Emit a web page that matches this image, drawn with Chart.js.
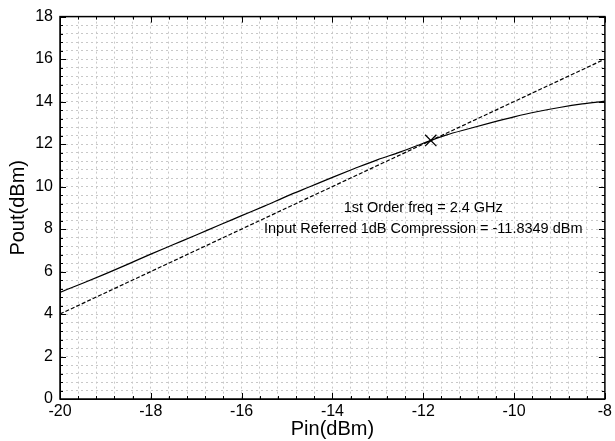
<!DOCTYPE html>
<html>
<head>
<meta charset="utf-8">
<script src="https://cdn.jsdelivr.net/npm/chart.js@4/dist/chart.umd.min.js"></script>
<style>
    body { margin: 0; background: #fff; overflow: hidden; }
    #contenedor { width: 615px; height: 441px; position: relative; }
</style>
</head>
<body>
<div id="contenedor"><canvas id="grafico"></canvas></div>
<script>
// Pout medido vs Pin
const pin = [-20, -19.5, -19, -18.5, -18, -17.5, -17, -16.5, -16, -15.5, -15, -14.5, -14,
             -13.5, -13, -12.5, -12, -11.5, -11, -10.5, -10, -9.5, -9, -8.5, -8];
const pout = [5.02, 5.45, 5.89, 6.35, 6.82, 7.27, 7.72, 8.18, 8.63, 9.08, 9.55, 9.99, 10.43,
              10.86, 11.27, 11.63, 12.04, 12.42, 12.72, 13.01, 13.28, 13.52, 13.72, 13.89, 14.02];

// recta de primer orden (extrapolada)
const pinLineal = [-20, -8];
const poutLineal = [4, 16];

// punto de compresion 1dB
const pinComp = [-11.8349];
const poutComp = [12.17];

const ticksX = [-20, -18, -16, -14, -12, -10, -8];
const ticksY = [0, 2, 4, 6, 8, 10, 12, 14, 16, 18];

const notas = ['1st Order freq = 2.4 GHz', 'Input Referred 1dB Compression = -11.8349 dBm'];
const notaPin = -12;
const notaPout = [9, 8];

const fuente = '"Liberation Sans", Arial, Helvetica, sans-serif';

function esMayor(v, lista) {
    return lista.some(t => Math.abs(t - v) < 1e-6);
}

// marcas de tick hacia dentro en los cuatro lados + marco
const marcas = {
    id: 'marcas',
    afterDraw(chart) {
        const c = chart.ctx;
        const a = chart.chartArea;
        const sx = chart.scales.x;
        const sy = chart.scales.y;
        c.save();
        c.strokeStyle = '#000';
        c.lineWidth = 1;
        sx.ticks.forEach(t => {
            const px = Math.round(sx.getPixelForValue(t.value)) + 0.5;
            const l = esMayor(t.value, ticksX) ? 6 : 3;
            c.beginPath();
            c.moveTo(px, a.bottom); c.lineTo(px, a.bottom - l);
            c.moveTo(px, a.top); c.lineTo(px, a.top + l);
            c.stroke();
        });
        sy.ticks.forEach(t => {
            const py = Math.round(sy.getPixelForValue(t.value)) + 0.5;
            const l = esMayor(t.value, ticksY) ? 6 : 3;
            c.beginPath();
            c.moveTo(a.left, py); c.lineTo(a.left + l, py);
            c.moveTo(a.right, py); c.lineTo(a.right - l, py);
            c.stroke();
        });
        c.lineWidth = 1.5;
        c.strokeRect(a.left, a.top, a.right - a.left, a.bottom - a.top);
        c.restore();
    },
    afterDatasetsDraw(chart) {
        const c = chart.ctx;
        const sx = chart.scales.x;
        const sy = chart.scales.y;
        c.save();
        c.fillStyle = '#000';
        c.font = '14.5px ' + fuente;
        c.textAlign = 'center';
        c.textBaseline = 'middle';
        notas.forEach((txt, i) => {
            c.fillText(txt, sx.getPixelForValue(notaPin), sy.getPixelForValue(notaPout[i]));
        });
        c.restore();
    }
};

let ctx = document.getElementById('grafico').getContext('2d');
let grafico = new Chart(ctx, {
    type: 'line',
    data: {
        datasets: [
            {
                label: 'Pout',
                data: pin.map((x, i) => ({ x: x, y: pout[i] })),
                borderColor: '#000',
                borderWidth: 1.2,
                pointRadius: 0,
                cubicInterpolationMode: 'monotone',
                fill: false
            },
            {
                label: 'Lineal',
                data: pinLineal.map((x, i) => ({ x: x, y: poutLineal[i] })),
                borderColor: '#000',
                borderWidth: 1.2,
                borderDash: [4, 2],
                pointRadius: 0,
                fill: false
            },
            {
                label: 'P1dB',
                data: pinComp.map((x, i) => ({ x: x, y: poutComp[i] })),
                showLine: false,
                pointStyle: 'crossRot',
                pointRadius: 8,
                borderColor: '#000',
                borderWidth: 1.3
            }
        ]
    },
    options: {
        responsive: true,
        maintainAspectRatio: false,
        animation: false,
        events: [],
        layout: { padding: { top: 15, right: 9, left: 0, bottom: 0 } },
        plugins: {
            legend: { display: false },
            tooltip: { enabled: false }
        },
        scales: {
            x: {
                type: 'linear',
                min: -20,
                max: -8,
                afterFit: s => { s.height = 42; },
                ticks: {
                    stepSize: 0.4,
                    autoSkip: false,
                    maxRotation: 0,
                    padding: 3,
                    color: '#000',
                    font: { family: fuente, size: 16 },
                    callback: v => esMayor(v, ticksX) ? String(Math.round(v)) : ''
                },
                grid: { color: '#c8c8c8', lineWidth: 1, drawTicks: false },
                border: { display: true, color: '#000', width: 1, dash: [2, 3] },
                title: {
                    display: true,
                    text: 'Pin(dBm)',
                    color: '#000',
                    font: { family: fuente, size: 20 },
                    padding: { top: 0, bottom: 0 }
                }
            },
            y: {
                type: 'linear',
                min: 0,
                max: 18,
                afterFit: s => { s.width = 60; },
                ticks: {
                    stepSize: 0.4,
                    autoSkip: false,
                    padding: 7,
                    color: '#000',
                    font: { family: fuente, size: 16 },
                    callback: v => esMayor(v, ticksY) ? String(Math.round(v)) : ''
                },
                grid: { color: '#c8c8c8', lineWidth: 1, drawTicks: false },
                border: { display: true, color: '#000', width: 1, dash: [2, 3] },
                title: {
                    display: true,
                    text: 'Pout(dBm)',
                    color: '#000',
                    font: { family: fuente, size: 20 },
                    padding: { top: 6, bottom: 0 }
                }
            }
        }
    },
    plugins: [marcas]
});
</script>
</body>
</html>
